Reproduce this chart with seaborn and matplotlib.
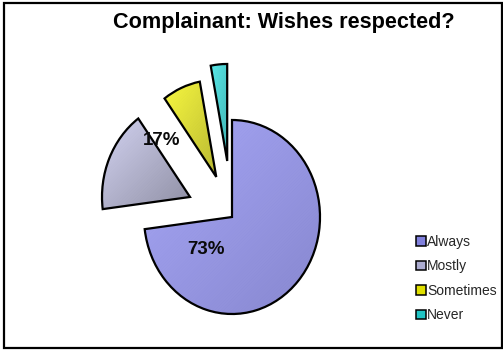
import numpy as np
import matplotlib
matplotlib.use("Agg")
import matplotlib.pyplot as plt
import seaborn as sns
from matplotlib.colors import LinearSegmentedColormap
from matplotlib.patches import Patch, Rectangle, PathPatch

sns.set_theme(style="white")
plt.rcParams["font.family"] = ["Liberation Sans", "DejaVu Sans"]
plt.rcParams["hatch.linewidth"] = 0.7

# Survey answers (percent of complainants)
categories = ["Always", "Mostly", "Sometimes", "Never"]
values = [73, 17, 7, 3]
title = "Complainant: Wishes respected?"

# light -> dark shading for each slice
light = ["#9090f4", "#c8c8ee", "#f6f610", "#30e4e4"]
dark = ["#6a6ac4", "#74748e", "#a8a800", "#10a0a0"]
legend_colors = ["#8080dc", "#acacd0", "#e0e000", "#20c4c4"]
explode = [0.0, 0.52, 0.45, 0.58]

W, H = 503, 350
fig = plt.figure(figsize=(W / 100, H / 100), dpi=100)
fig.patch.set_facecolor("white")

# axes over the whole figure; pie centre sits at (232, 217) px
cx, cy, rx, ry = 232, 217, 88, 97
ax = fig.add_axes([0, 0, 1, 1])

wedges, _ = ax.pie(values, startangle=90, counterclock=False, explode=explode,
                   radius=1.0, normalize=True,
                   wedgeprops=dict(edgecolor="black", linewidth=1.6, facecolor="none", zorder=3))

# diagonal gradient fill clipped to each wedge, plus faint stripes
yy, xx = np.mgrid[0:1:200j, 0:1:200j]
grad = (xx + yy) / 2.0
for w, c0, c1 in zip(wedges, light, dark):
    path = w.get_path()
    ext = path.get_extents()
    cmap = LinearSegmentedColormap.from_list("g", [c0, c1])
    im = ax.imshow(grad, cmap=cmap, extent=[ext.x0, ext.x1, ext.y0, ext.y1],
                   origin="upper", aspect="auto", zorder=1, interpolation="bilinear")
    im.set_clip_path(w)
    stripes = PathPatch(path, facecolor="none", edgecolor=(1, 1, 1, 0.22),
                        linewidth=0, hatch="/" * 22, zorder=2)
    ax.add_patch(stripes)

ax.set_xlim(-cx / rx, (W - cx) / rx)
ax.set_ylim(-(H - cy) / ry, cy / ry)
ax.set_aspect("auto")
ax.set_axis_off()

# percentage labels for the two large slices
label_pos = {0: (206, 250), 1: (162, 141)}
for i, (px, py) in label_pos.items():
    fig.text(px / W, 1 - py / H, f"{values[i]}%", ha="center", va="center",
             fontsize=13.5, fontweight="bold", color="#0a0a0a", zorder=5)

fig.text(284 / W, 1 - 28 / H, title, ha="center", va="baseline",
         fontsize=15.6, fontweight="bold", color="black")

handles = [Patch(facecolor=c, edgecolor="black", linewidth=1.1) for c in legend_colors]
leg = fig.legend(handles, categories, loc="upper left",
                 bbox_to_anchor=(416 / W, 1 - 235 / H), frameon=False,
                 fontsize=10, handlelength=0.7, handleheight=0.7,
                 handletextpad=0.1, labelspacing=0.75, borderpad=0, borderaxespad=0)

# outer chart border
fig.patches.append(Rectangle((4 / W, 2 / H), 498 / W, 345 / H, transform=fig.transFigure,
                             fill=False, edgecolor="black", linewidth=1.6))

fig.savefig("out.png", dpi=100, facecolor="white")
